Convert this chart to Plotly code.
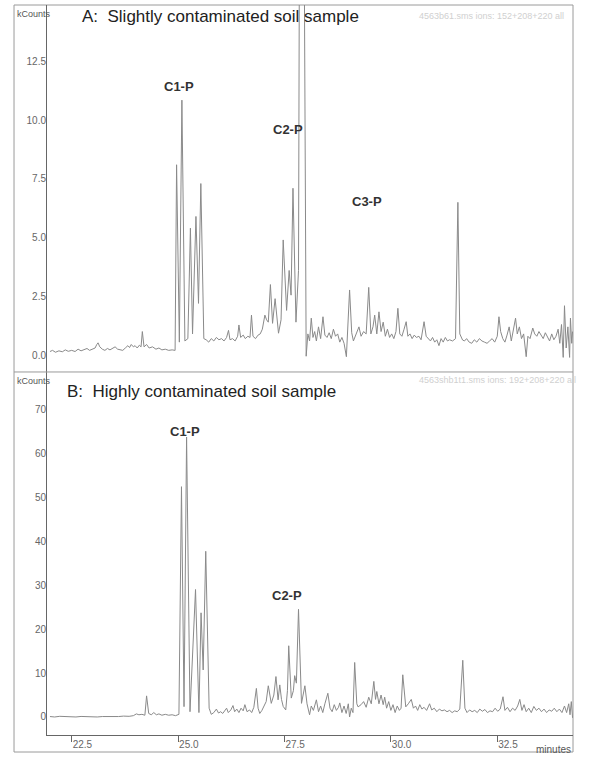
import plotly.graph_objects as go

# GC-MS chromatograms (ion trace), intensities in kCounts, retention time in minutes
# A: slightly contaminated soil sample
time_a = [21.99, 22.05, 22.12, 22.20, 22.28, 22.35, 22.42, 22.50, 22.58, 22.65, 22.72, 22.80, 22.86, 22.92, 22.98,
          23.05, 23.09, 23.12, 23.16, 23.22, 23.28, 23.34, 23.40, 23.46, 23.52, 23.58, 23.64, 23.70, 23.76, 23.82,
          23.86, 23.90, 23.95, 23.99, 24.04, 24.09, 24.13, 24.16, 24.20, 24.26, 24.32, 24.40, 24.48, 24.55, 24.62,
          24.70, 24.78, 24.86, 24.93, 24.965, 25.03, 25.09, 25.16, 25.23, 25.29, 25.34, 25.42, 25.48, 25.535, 25.605,
          25.66, 25.72, 25.78, 25.84, 25.90, 25.96, 26.02, 26.08, 26.14, 26.185, 26.22, 26.28, 26.34, 26.40, 26.43,
          26.47, 26.53, 26.58, 26.64, 26.69, 26.725, 26.76, 26.82, 26.88, 26.93, 26.98, 27.04, 27.08, 27.12, 27.17,
          27.22, 27.28, 27.36, 27.42, 27.47, 27.55, 27.61, 27.655, 27.70, 27.77, 27.83, 27.87, 27.93, 28.01, 28.05,
          28.09, 28.13, 28.17, 28.21, 28.25, 28.30, 28.35, 28.405, 28.45, 28.50, 28.55, 28.60, 28.65, 28.70, 28.75,
          28.80, 28.85, 28.90, 28.955, 29.03, 29.08, 29.12, 29.18, 29.25, 29.30, 29.36, 29.42, 29.48, 29.53, 29.58,
          29.62, 29.67, 29.72, 29.77, 29.82, 29.87, 29.92, 29.97, 30.02, 30.07, 30.12, 30.165, 30.21, 30.26, 30.31,
          30.36, 30.40, 30.45, 30.50, 30.55, 30.60, 30.66, 30.71, 30.78, 30.83, 30.88, 30.93, 30.98, 31.03, 31.08,
          31.13, 31.18, 31.23, 31.28, 31.33, 31.38, 31.45, 31.52, 31.575, 31.62, 31.685, 31.73, 31.78, 31.84, 31.90,
          31.96, 32.02, 32.08, 32.14, 32.20, 32.26, 32.32, 32.38, 32.44, 32.50, 32.54, 32.58, 32.63, 32.68, 32.73,
          32.78, 32.83, 32.88, 32.93, 32.97, 33.02, 33.07, 33.12, 33.18, 33.22, 33.27, 33.335, 33.38, 33.43, 33.48,
          33.53, 33.58, 33.63, 33.68, 33.73, 33.78, 33.83, 33.88, 33.93, 33.97, 34.01, 34.05, 34.08, 34.12, 34.16,
          34.20, 34.22, 34.25, 34.27]
kcounts_a = [0.15, 0.20, 0.12, 0.18, 0.14, 0.22, 0.16, 0.20, 0.15, 0.25, 0.18, 0.22, 0.28, 0.20, 0.24,
             0.30, 0.45, 0.52, 0.35, 0.25, 0.20, 0.28, 0.22, 0.30, 0.35, 0.25, 0.22, 0.20, 0.30, 0.40,
             0.32, 0.45, 0.35, 0.40, 0.30, 0.42, 0.35, 1.00, 0.35, 0.45, 0.30, 0.35, 0.25, 0.30, 0.22,
             0.25, 0.20, 0.22, 0.20, 8.10, 0.55, 10.85, 0.60, 0.70, 5.40, 0.90, 5.90, 2.20, 7.30, 0.70,
             0.65, 0.55, 0.70, 0.60, 0.75, 0.65, 0.70, 0.60, 0.75, 1.05, 0.65, 0.70, 0.60, 0.80, 1.28,
             0.75, 0.85, 0.70, 0.80, 0.75, 1.70, 0.80, 0.70, 0.85, 0.90, 1.10, 1.70, 1.50, 1.40, 3.00,
             1.35, 2.40, 0.93, 1.50, 4.90, 1.90, 3.60, 2.55, 7.10, 1.40, 3.60, 30.0, 30.0, -0.05, 0.90,
             0.60, 1.57, 0.75, 1.00, 0.60, 1.20, 0.70, 1.63, 0.85, 0.75, 0.95, 0.70, 1.10, 0.80, 0.90,
             0.55, 0.75, 0.50, -0.07, 2.77, 0.95, 0.60, 0.90, 1.20, 0.80, 1.00, 0.90, 2.88, 0.90, 1.20,
             1.70, 0.90, 1.84, 1.00, 1.40, 0.80, 1.10, 0.75, 0.90, 0.70, 1.00, 1.99, 0.90, 0.80, 1.10,
             1.42, 0.80, 0.90, 0.70, 0.85, 0.75, 0.80, 0.65, 1.42, 0.80, 0.70, 0.60, 0.75, 0.55, 0.65,
             0.40, 0.70, 0.55, 0.75, 0.60, 0.65, 0.60, 0.70, 6.50, 0.90, 0.64, 0.60, 0.70, 0.55, 0.50,
             0.65, 0.55, 0.70, 0.60, 0.55, 0.50, 0.60, 0.70, 0.55, 0.80, 1.63, 1.00, 0.70, 0.55, 0.85,
             1.20, 0.60, 1.10, 1.57, 0.90, 1.20, 0.70, 0.90, -0.07, 0.80, 0.70, 1.15, 0.90, 0.80, 1.00,
             0.85, 0.70, 0.95, 0.80, 0.60, 0.90, 0.65, 0.80, 1.10, 0.50, 1.30, -0.10, 2.10, 0.30, 1.20,
             -0.10, 1.57, 0.50, 1.00]

# B: highly contaminated soil sample
time_b = [21.99, 22.10, 22.22, 22.35, 22.48, 22.60, 22.72, 22.85, 22.98, 23.10, 23.22, 23.35, 23.48, 23.60, 23.72,
          23.85, 23.95, 24.02, 24.08, 24.15, 24.22, 24.26, 24.31, 24.37, 24.43, 24.49, 24.55, 24.62, 24.70, 24.78,
          24.86, 24.94, 25.02, 25.08, 25.14, 25.20, 25.28, 25.41, 25.49, 25.54, 25.59, 25.65, 25.73, 25.78, 25.84,
          25.90, 25.95, 26.00, 26.05, 26.10, 26.14, 26.18, 26.24, 26.29, 26.33, 26.38, 26.43, 26.48, 26.53, 26.57,
          26.62, 26.68, 26.73, 26.78, 26.84, 26.88, 26.92, 26.97, 27.02, 27.07, 27.12, 27.16, 27.19, 27.25, 27.30,
          27.35, 27.39, 27.43, 27.47, 27.53, 27.57, 27.60, 27.66, 27.71, 27.74, 27.78, 27.83, 27.90, 27.94, 27.98,
          28.03, 28.09, 28.13, 28.18, 28.25, 28.30, 28.35, 28.40, 28.45, 28.52, 28.57, 28.62, 28.67, 28.72, 28.77,
          28.80, 28.85, 28.90, 28.95, 29.00, 29.03, 29.07, 29.11, 29.15, 29.20, 29.23, 29.30, 29.36, 29.42, 29.48,
          29.54, 29.60, 29.64, 29.67, 29.72, 29.77, 29.82, 29.855, 29.90, 29.95, 30.00, 30.05, 30.10, 30.15, 30.20,
          30.24, 30.28, 30.35, 30.41, 30.48, 30.53, 30.58, 30.63, 30.68, 30.73, 30.78, 30.84, 30.91, 30.96, 31.02,
          31.08, 31.14, 31.20, 31.26, 31.32, 31.38, 31.44, 31.50, 31.56, 31.62, 31.69, 31.74, 31.79, 31.85, 31.91,
          31.97, 32.03, 32.09, 32.15, 32.21, 32.27, 32.33, 32.39, 32.45, 32.51, 32.57, 32.635, 32.68, 32.74, 32.80,
          32.86, 32.92, 32.98, 33.03, 33.08, 33.13, 33.18, 33.24, 33.30, 33.36, 33.42, 33.48, 33.54, 33.60, 33.66,
          33.72, 33.78, 33.84, 33.90, 33.96, 34.02, 34.08, 34.13, 34.18, 34.21, 34.24, 34.27]
kcounts_b = [0.1, 0.0, 0.15, 0.05, 0.1, 0.0, 0.12, 0.05, 0.1, 0.0, 0.1, 0.05, 0.15, 0.1, 0.2,
             0.15, 0.3, 0.7, 0.5, 0.6, 0.4, 4.8, 0.8, 0.5, 1.0, 0.5, 0.7, 0.4, 0.6, 0.4,
             0.5, 0.3, 0.6, 52.4, 2.35, 63.7, 1.2, 29.0, 1.0, 23.7, 10.7, 37.7, 2.0, 0.6, 1.0,
             1.8, 0.9, 1.2, 0.8, 1.5, 2.0, 1.0, 1.6, 2.6, 1.2, 1.8, 1.0, 2.0, 1.4, 2.8,
             1.2, 1.6, 1.0, 2.2, 6.5, 2.0, 0.8, 1.5, 2.5, 3.5, 7.1, 4.5, 3.1, 5.0, 9.2,
             3.9, 7.3, 4.0, 2.4, 1.6, 6.0, 16.2, 4.3, 6.0, 9.4, 7.7, 24.5, 3.1, 5.0, 7.1,
             3.0, 0.5, 2.5, 1.5, 3.9, 1.2, 2.5, 1.0, 3.0, 5.4, 2.0, 1.2, 2.8, 1.5, 2.2,
             3.2, 1.0, 2.5, 0.8, 3.0, 0.0, 2.0, 1.0, 12.4, 3.0, 2.3, 2.8, 3.5, 2.2, 4.5,
             3.0, 8.1, 4.0, 5.8, 3.0, 5.0, 2.8, 4.5, 2.0, 3.5, 1.5, 2.8, 1.0, 2.5, 1.5,
             2.0, 9.6, 2.3, 3.0, 4.0, 2.0, 2.5, 1.5, 2.8, 1.8, 2.2, 1.5, 3.0, 1.6, 2.0,
             1.2, 1.8, 1.4, 1.6, 1.2, 1.5, 1.0, 1.4, 1.2, 1.8, 12.9, 2.0, 1.0, 1.6, 1.2,
             1.5, 1.0, 1.8, 1.3, 1.7, 1.0, 1.4, 1.2, 2.0, 1.3, 1.8, 4.6, 1.5, 2.2, 1.2,
             2.0, 1.5, 2.5, 4.0, 1.5, 2.8, 1.2, 2.0, 1.0, 2.4, 1.5, 2.0, 1.2, 1.8, 1.0,
             1.6, 1.3, 2.0, 1.2, 1.8, 1.0, 2.5, 1.0, 3.0, 0.5, 3.5, -0.2]

# peak labels
labels_a = ["C1-P", "C2-P", "C3-P"]
label_x_a = [25.02, 27.58, 29.44]
label_y_a = [11.45, 9.62, 6.55]
labels_b = ["C1-P", "C2-P"]
label_x_b = [25.17, 27.57]
label_y_b = [64.9, 27.6]

x_range = [21.92, 34.28]
split = 0.4973  # paper y of the border between the two panels
line_col = "#8a8a8a"
axis_col = "#666666"
frame_col = "#9a9a9a"
font = "Liberation Sans, Arial, sans-serif"

fig = go.Figure()
fig.add_trace(go.Scatter(x=time_a, y=kcounts_a, mode="lines", xaxis="x2", yaxis="y2",
                         line=dict(color=line_col, width=1), showlegend=False))
fig.add_trace(go.Scatter(x=time_b, y=kcounts_b, mode="lines", xaxis="x", yaxis="y",
                         line=dict(color=line_col, width=1), showlegend=False))

ytick_font = dict(family=font, size=10, color="#666666")

fig.update_layout(
    width=599, height=757,
    margin=dict(l=47, r=26, t=5, b=22),
    paper_bgcolor="white", plot_bgcolor="white",
    font=dict(family=font),
    xaxis=dict(domain=[0, 1], anchor="y", range=x_range, showgrid=False, zeroline=False,
               showline=True, linecolor=axis_col, linewidth=1,
               ticks="outside", ticklen=6, tickcolor=axis_col, tick0=22.5, dtick=2.5,
               tickformat=".1f", ticklabelposition="outside right",
               tickfont=dict(family=font, size=10, color="#666666")),
    yaxis=dict(domain=[0, split], anchor="x", range=[-4.1, 78.5], showgrid=False, zeroline=False,
               showline=True, linecolor=axis_col, linewidth=1, ticks="", tick0=0, dtick=10,
               ticklabelstandoff=-2, tickfont=ytick_font),
    xaxis2=dict(domain=[0, 1], anchor="y2", range=x_range, matches="x", visible=False),
    yaxis2=dict(domain=[split, 1], anchor="x2", range=[-0.72, 14.9], showgrid=False, zeroline=False,
                showline=True, linecolor=axis_col, linewidth=1, ticks="", tick0=0, dtick=2.5,
                tickformat=".1f", ticklabelstandoff=-2, tickfont=ytick_font),
)

# outer frame and panel separator
fig.add_shape(type="rect", xref="paper", yref="paper", x0=-0.0627, x1=1, y0=-0.0233, y1=1,
              line=dict(color=frame_col, width=1), layer="below")
fig.add_shape(type="line", xref="paper", yref="paper", x0=-0.0627, x1=1, y0=split, y1=split,
              line=dict(color=frame_col, width=1))

# panel titles, unit labels, run info
fig.add_annotation(text="A:&nbsp; Slightly contaminated soil sample", xref="paper", yref="paper",
                   x=0.0627, y=0.9836, xanchor="left", yanchor="middle", showarrow=False,
                   font=dict(family=font, size=17, color="#222222"))
fig.add_annotation(text="B:&nbsp; Highly contaminated soil sample", xref="paper", yref="paper",
                   x=0.0342, y=0.4699, xanchor="left", yanchor="middle", showarrow=False,
                   font=dict(family=font, size=17, color="#222222"))
for ky in [0.9877, 0.4849]:
    fig.add_annotation(text="kCounts", xref="paper", yref="paper", x=-0.0608, y=ky,
                       xanchor="left", yanchor="middle", showarrow=False,
                       font=dict(family=font, size=9, color="#555555"))
fig.add_annotation(text="4563b61.sms ions: 152+208+220 all", xref="paper", yref="paper",
                   x=0.703, y=0.9849, xanchor="left", yanchor="middle", showarrow=False,
                   font=dict(family=font, size=9, color="#d0d0d0"))
fig.add_annotation(text="4563shb1t1.sms ions: 192+208+220 all", xref="paper", yref="paper",
                   x=0.703, y=0.4863, xanchor="left", yanchor="middle", showarrow=False,
                   font=dict(family=font, size=9, color="#d0d0d0"))
fig.add_annotation(text="minutes", xref="paper", yref="paper", x=1, y=-0.0205,
                   xanchor="right", yanchor="middle", showarrow=False,
                   font=dict(family=font, size=10, color="#555555"))

for t, x, y in zip(labels_a, label_x_a, label_y_a):
    fig.add_annotation(text="<b>" + t + "</b>", x=x, y=y, xref="x2", yref="y2", showarrow=False,
                       font=dict(family=font, size=13, color="#333333"))
for t, x, y in zip(labels_b, label_x_b, label_y_b):
    fig.add_annotation(text="<b>" + t + "</b>", x=x, y=y, xref="x", yref="y", showarrow=False,
                       font=dict(family=font, size=13, color="#333333"))

# the page has a default 8px body margin; drop it so the figure sits at the window corner
fig.write_html("out.html", config={"displayModeBar": False},
               post_script="document.body.style.margin = '0';")
